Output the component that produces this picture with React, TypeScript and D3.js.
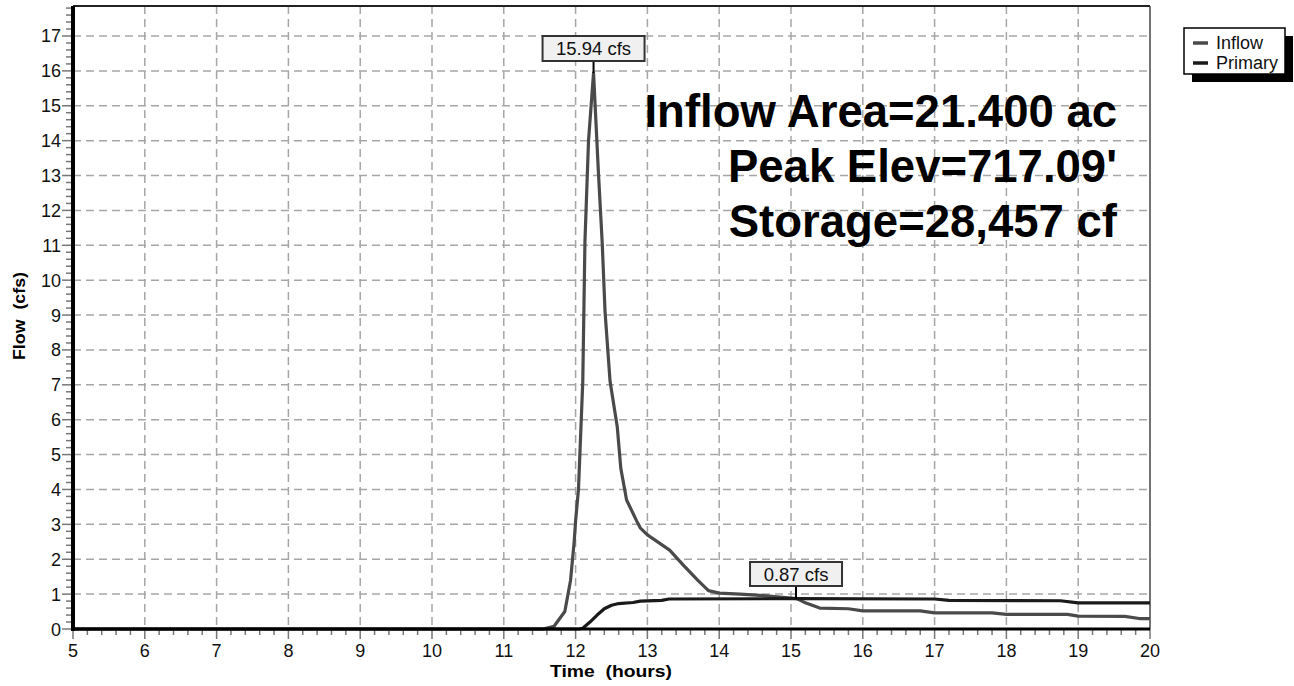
import React from "react";
import * as d3 from "d3";

const inflowT = [5, 11.55, 11.7, 11.85, 11.93, 11.98, 12.0, 12.04, 12.1, 12.13, 12.18, 12.25, 12.32, 12.37, 12.41, 12.48, 12.58, 12.63, 12.71, 12.85, 12.9, 13.0, 13.31, 13.5, 13.7, 13.85, 14.0, 14.29, 14.66, 15.08, 15.2, 15.4, 15.8, 16.0, 16.8, 17.0, 17.8, 18.0, 18.85, 19.0, 19.65, 19.85, 20];
const inflowQ = [0, 0, 0.08, 0.5, 1.4, 2.5, 3.1, 4.0, 7.1, 11.1, 14.0, 15.94, 13.0, 11.1, 9.1, 7.1, 5.8, 4.6, 3.7, 3.1, 2.9, 2.7, 2.26, 1.83, 1.4, 1.1, 1.03, 1.0, 0.95, 0.87, 0.75, 0.6, 0.58, 0.52, 0.52, 0.46, 0.46, 0.42, 0.42, 0.37, 0.36, 0.3, 0.3];
const primaryT = [5, 12.05, 12.1, 12.2, 12.3, 12.4, 12.5, 12.6, 12.8, 12.9, 13.2, 13.3, 15.07, 17.0, 17.2, 18.75, 19.0, 20];
const primaryQ = [0, 0, 0.02, 0.2, 0.4, 0.58, 0.68, 0.73, 0.76, 0.8, 0.82, 0.86, 0.87, 0.86, 0.82, 0.81, 0.75, 0.75];

const xTicks = [5, 6, 7, 8, 9, 10, 11, 12, 13, 14, 15, 16, 17, 18, 19, 20];
const yTicks = [0, 1, 2, 3, 4, 5, 6, 7, 8, 9, 10, 11, 12, 13, 14, 15, 16, 17];
const statLines = ["Inflow Area=21.400 ac", "Peak Elev=717.09'", "Storage=28,457 cf"];
const legendNames = ["Inflow", "Primary"];
const peakLabels = [
  { t: 12.25, q: 15.94, text: "15.94 cfs" },
  { t: 15.07, q: 0.87, text: "0.87 cfs" },
];

const W = 1294;
const H = 686;
const L = 73, R = 1150, T = 6, B = 629;
const FONT = "'Liberation Sans', Arial, Helvetica, sans-serif";
const INFLOW_C = "#4a4a4a";
const PRIMARY_C = "#1a1a1a";

export default function App() {
  const x = d3.scaleLinear().domain([5, 20]).range([L, R]);
  const y = d3.scaleLinear().domain([0, 17.86]).range([B, T]);
  const line = d3
    .line<[number, number]>()
    .x((d) => x(d[0]))
    .y((d) => y(d[1]));
  const inflow = inflowT.map((t, i) => [t, inflowQ[i]] as [number, number]);
  const primary = primaryT.map((t, i) => [t, primaryQ[i]] as [number, number]);

  const xMinor = d3.range(0, 76).map((i) => 5 + i * 0.2);
  const yMinor = d3.range(0, 90).map((i) => i * 0.2).filter((v) => y(v) >= T);

  const boxW = [102, 92];
  const boxH = [25, 24];
  const boxTop = [36, 562];

  return (
    <svg width={W} height={H} style={{ position: "absolute", left: 0, top: 0, background: "#fff" }} fontFamily={FONT}>
      <rect x={0} y={0} width={W} height={H} fill="#fff" />
      {/* grid */}
      <g stroke="#a6a6a6" strokeWidth={1.5} strokeDasharray="8,5">
        {xTicks.slice(1, -1).map((t) => (
          <line key={"gx" + t} x1={x(t)} x2={x(t)} y1={T} y2={B} />
        ))}
        {yTicks.slice(1).map((v) => (
          <line key={"gy" + v} x1={L} x2={R} y1={y(v)} y2={y(v)} />
        ))}
      </g>
      {/* minor ticks */}
      <g stroke="#777" strokeWidth={1.5}>
        {yMinor.map((v, i) => (
          <line key={"ym" + i} x1={i % 5 === 0 ? 62 : 66} x2={L} y1={y(v)} y2={y(v)} />
        ))}
        {xMinor.map((t, i) => (
          <line key={"xm" + i} x1={x(t)} x2={x(t)} y1={B} y2={i % 5 === 0 ? 639 : 635} />
        ))}
      </g>
      {/* frame */}
      <line x1={L} x2={R} y1={T} y2={T} stroke="#222" strokeWidth={2} />
      <line x1={R} x2={R} y1={T} y2={B} stroke="#444" strokeWidth={1.5} />
      {/* series */}
      <path d={line(inflow) || ""} fill="none" stroke={INFLOW_C} strokeWidth={3.2} strokeLinejoin="round" />
      <path d={line(primary) || ""} fill="none" stroke={PRIMARY_C} strokeWidth={3.2} strokeLinejoin="round" />
      <line x1={L} x2={L} y1={T} y2={B + 2} stroke="#000" strokeWidth={4} />
      <line x1={L} x2={R} y1={B} y2={B} stroke="#000" strokeWidth={3} />
      {/* tick labels */}
      <g fontSize={18} fill="#111">
        {yTicks.map((v) => (
          <text key={"yl" + v} x={61} y={y(v) + 6.5} textAnchor="end">
            {v}
          </text>
        ))}
        {xTicks.map((t) => (
          <text key={"xl" + t} x={x(t)} y={657} textAnchor="middle">
            {t}
          </text>
        ))}
      </g>
      {/* axis titles */}
      <text x={611} y={677} textAnchor="middle" fontSize={16.5} fontWeight="bold" textLength={122} lengthAdjust="spacingAndGlyphs" style={{ whiteSpace: "pre" }}>
        {"Time  (hours)"}
      </text>
      <text transform="translate(25,316) rotate(-90)" textAnchor="middle" fontSize={16.5} fontWeight="bold" textLength={88} lengthAdjust="spacingAndGlyphs" style={{ whiteSpace: "pre" }}>
        {"Flow  (cfs)"}
      </text>
      {/* peak labels */}
      {peakLabels.map((p, i) => {
        const cx = x(p.t);
        return (
          <g key={"pk" + i}>
            <line x1={cx} x2={cx} y1={boxTop[i] + boxH[i]} y2={y(p.q)} stroke="#000" strokeWidth={2} />
            <rect x={cx - boxW[i] / 2} y={boxTop[i]} width={boxW[i]} height={boxH[i]} fill="#f0f0f0" stroke="#333" strokeWidth={2} />
            <text x={cx} y={boxTop[i] + boxH[i] / 2 + 6.5} textAnchor="middle" fontSize={18.5} fill="#111">
              {p.text}
            </text>
          </g>
        );
      })}
      {/* stats */}
      <g fontSize={45.5} fontWeight="bold" fill="#000">
        {statLines.map((s, i) => (
          <text key={"st" + i} x={1117} y={127 + i * 55} textAnchor="end">
            {s}
          </text>
        ))}
      </g>
      {/* legend */}
      <rect x={1192} y={36} width={101} height={46} fill="#000" />
      <rect x={1184} y={28} width={101} height={46} fill="#fff" stroke="#000" strokeWidth={1.5} />
      {legendNames.map((n, i) => (
        <g key={"lg" + i}>
          <line x1={1193} x2={1208} y1={43 + i * 20} y2={43 + i * 20} stroke={i === 0 ? INFLOW_C : PRIMARY_C} strokeWidth={3.5} />
          <text x={1216} y={49 + i * 20} fontSize={18} fill="#111">
            {n}
          </text>
        </g>
      ))}
    </svg>
  );
}
